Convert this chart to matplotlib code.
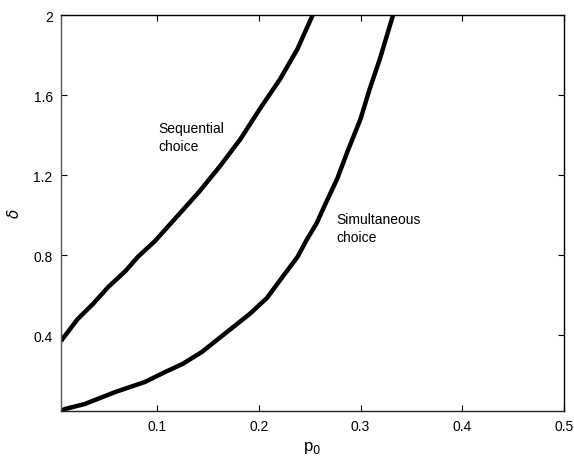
import matplotlib
matplotlib.use("Agg")
import matplotlib.pyplot as plt

plt.rcParams['font.family'] = ['Liberation Sans', 'DejaVu Sans']

seq_p = [0.0056, 0.022, 0.037, 0.052, 0.069, 0.081, 0.098, 0.113, 0.128, 0.142,
         0.162, 0.182, 0.201, 0.221, 0.238, 0.253]
seq_d = [0.37, 0.48, 0.555, 0.64, 0.72, 0.79, 0.87, 0.955, 1.04, 1.12,
         1.245, 1.38, 1.53, 1.68, 1.83, 2.0]

sim_p = [0.0056, 0.0095, 0.029, 0.059, 0.088, 0.108, 0.125, 0.144, 0.191, 0.208,
         0.224, 0.238, 0.247, 0.257, 0.265, 0.277, 0.287, 0.300, 0.309, 0.319,
         0.327, 0.332]
sim_d = [0.02, 0.03, 0.055, 0.115, 0.165, 0.215, 0.255, 0.315, 0.505, 0.585,
         0.695, 0.79, 0.875, 0.96, 1.05, 1.18, 1.315, 1.48, 1.63, 1.78,
         1.915, 2.0]

xticks = [0.1, 0.2, 0.3, 0.4, 0.5]
xticklabels = ['0.1', '0.2', '0.3', '0.4', '0.5']
yticks = [0.4, 0.8, 1.2, 1.6, 2.0]
yticklabels = ['0.4', '0.8', '1.2', '1.6', '2']

fig = plt.figure(figsize=(5.74, 4.64), dpi=100)
ax = fig.add_axes([61/574, 1 - 412/464, (564-61)/574, (412-16)/464])

ax.plot(seq_p, seq_d, color='black', lw=3.2, solid_capstyle='butt', solid_joinstyle='round')
ax.plot(sim_p, sim_d, color='black', lw=3.2, solid_capstyle='butt', solid_joinstyle='round')

ax.set_xlim(0.0056, 0.5)
ax.set_ylim(0.02, 2.0)
ax.set_xticks(xticks)
ax.set_xticklabels(xticklabels)
ax.set_yticks(yticks)
ax.set_yticklabels(yticklabels)
ax.tick_params(direction='in', top=True, right=True, length=4, labelsize=10, width=0.8, pad=6)

for s in ax.spines.values():
    s.set_linewidth(1.0)
ax.spines['left'].set_color('#555555')
ax.spines['bottom'].set_color('#222222')

ax.text(0.101, 1.39, 'Sequential\nchoice', fontsize=10, ha='left', va='center', linespacing=1.3)
ax.text(0.276, 0.935, 'Simultaneous\nchoice', fontsize=10, ha='left', va='center', linespacing=1.3)

ax.set_xlabel(r'p$_0$', fontsize=12, labelpad=4)
ax.set_ylabel(r'$\delta$', fontsize=11, labelpad=8)

fig.savefig('out.png', dpi=100)
